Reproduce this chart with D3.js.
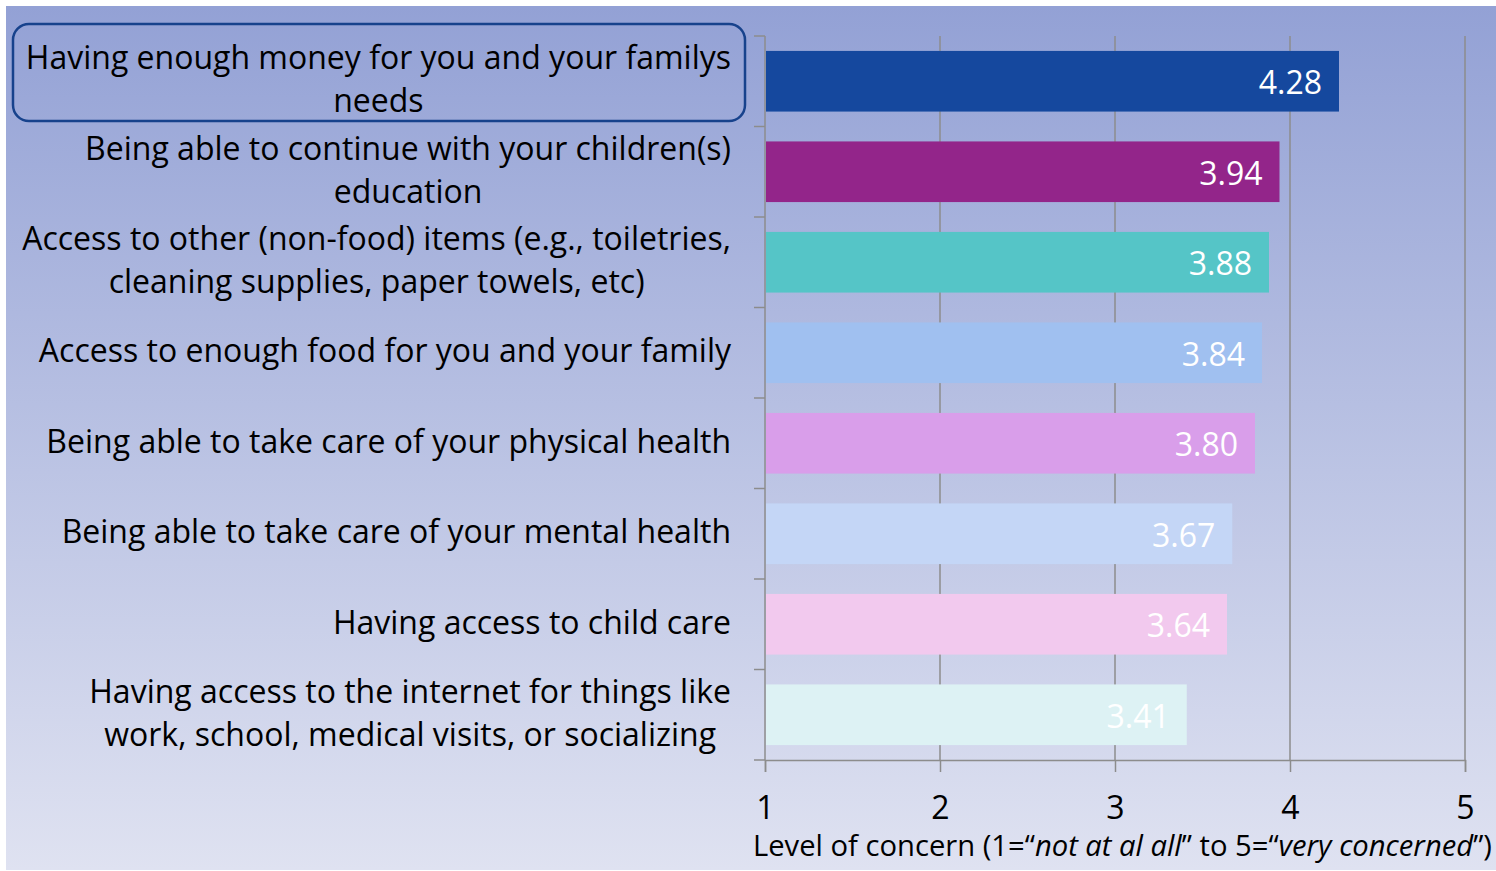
<!DOCTYPE html>
<html><head><meta charset="utf-8">
<script src="https://cdn.jsdelivr.net/npm/d3@7"></script>
<style>html,body{margin:0;padding:0;background:#fff;}svg{display:block;}</style>
</head><body>
<svg id="chart" width="1496" height="871"></svg>
<script>
const categories = [
  ["Having enough money for you and your familys", "needs"],
  ["Being able to continue with your children(s)", "education"],
  ["Access to other (non-food) items (e.g., toiletries,", "cleaning supplies, paper towels, etc)"],
  ["Access to enough food for you and your family"],
  ["Being able to take care of your physical health"],
  ["Being able to take care of your mental health"],
  ["Having access to child care"],
  ["Having access to the internet for things like", "work, school, medical visits, or socializing"]
];
const values = [4.28, 3.94, 3.88, 3.84, 3.80, 3.67, 3.64, 3.41];
const colors = ["#15489e", "#93258a", "#55c5c7", "#a0c0f0", "#d99eea", "#c4d6f6", "#f2c9ee", "#ddf2f4"];
const tickValues = [1, 2, 3, 4, 5];

const svg = d3.select("#chart");
const font = "'Open Sans', 'Noto Sans', sans-serif";

const defs = svg.append("defs");
const grad = defs.append("linearGradient").attr("id", "bg").attr("x1", 0).attr("y1", 0).attr("x2", 0).attr("y2", 1);
grad.append("stop").attr("offset", "0%").attr("stop-color", "#93a1d5");
grad.append("stop").attr("offset", "100%").attr("stop-color", "#dfe2f1");
svg.append("rect").attr("x", 6).attr("y", 6).attr("width", 1490).attr("height", 864).attr("fill", "url(#bg)");

const x = d3.scaleLinear().domain([1, 5]).range([765, 1465]);
const y = d3.scaleBand().domain(d3.range(categories.length)).range([36, 760]).paddingInner(0.33).paddingOuter(0.165);
const band = d3.scaleBand().domain(d3.range(categories.length)).range([36, 760]);

// gridlines
svg.append("g").selectAll("line").data(tickValues.slice(1)).join("line")
  .attr("x1", d => x(d)).attr("x2", d => x(d)).attr("y1", 36).attr("y2", 760)
  .attr("stroke", "#8c8c8c").attr("stroke-width", 1.5);

// x axis
const xAxis = svg.append("g").attr("transform", "translate(0,760)")
  .call(d3.axisBottom(x).tickValues(tickValues).tickSize(12).tickPadding(24).tickFormat(d3.format("d")));
xAxis.select(".domain").attr("stroke", "#8c8c8c").attr("stroke-width", 1.5);
xAxis.selectAll(".tick line").attr("stroke", "#8c8c8c").attr("stroke-width", 1.5);
xAxis.selectAll(".tick text").attr("font-family", font).attr("font-size", 32).attr("fill", "#000");

// y axis line and boundary ticks
svg.append("line").attr("x1", 765).attr("x2", 765).attr("y1", 36).attr("y2", 760)
  .attr("stroke", "#8c8c8c").attr("stroke-width", 1.5);
const bounds = d3.range(categories.length + 1).map(i => i < categories.length ? band(i) : band.range()[1]);
svg.append("g").selectAll("line").data(bounds).join("line")
  .attr("x1", 754).attr("x2", 765).attr("y1", d => d).attr("y2", d => d)
  .attr("stroke", "#8c8c8c").attr("stroke-width", 1.5);

// bars
svg.append("g").selectAll("rect").data(values).join("rect")
  .attr("x", x(1) + 1).attr("y", (d, i) => y(i))
  .attr("width", d => x(d) - x(1) - 1).attr("height", y.bandwidth())
  .attr("fill", (d, i) => colors[i]);

// value labels
svg.append("g").selectAll("text").data(values).join("text")
  .attr("x", d => x(d) - 17).attr("y", (d, i) => y(i) + y.bandwidth() / 2)
  .attr("dy", "0.4em").attr("text-anchor", "end")
  .attr("font-family", font).attr("font-size", 32).attr("font-weight", 500).attr("fill", "#fff")
  .text(d => d.toFixed(2));

// category labels (centered block, right-aligned at 731)
const labelG = svg.append("g");
categories.forEach((lines, i) => {
  const cy = band(i) + band.bandwidth() / 2;
  const t = labelG.append("text").attr("font-family", font).attr("font-size", 32).attr("fill", "#000")
    .attr("text-anchor", "middle");
  const lh = 43;
  const spans = lines.map((ln, j) =>
    t.append("tspan").attr("x", 0).attr("y", cy + (j - (lines.length - 1) / 2) * lh).attr("dy", "0.3em").text(ln));
  const w = d3.max(spans, s => s.node().getComputedTextLength());
  spans.forEach(s => s.attr("x", 731 - w / 2));
  if (i === 0) {
    labelG.insert("rect", "text").attr("x", 13).attr("y", 24).attr("width", 732).attr("height", 97)
      .attr("rx", 16).attr("fill", "none").attr("stroke", "#17428c").attr("stroke-width", 2.5);
  }
});

// axis title
const title = svg.append("text").attr("x", 753).attr("y", 856)
  .attr("font-family", font).attr("font-size", 29.2).attr("fill", "#000");
title.append("tspan").text("Level of concern (1=\u201c");
title.append("tspan").attr("font-style", "italic").text("not at al all");
title.append("tspan").text("\u201d to 5=\u201c");
title.append("tspan").attr("font-style", "italic").text("very concerned");
title.append("tspan").text("\u201d)");
</script>
</body></html>
